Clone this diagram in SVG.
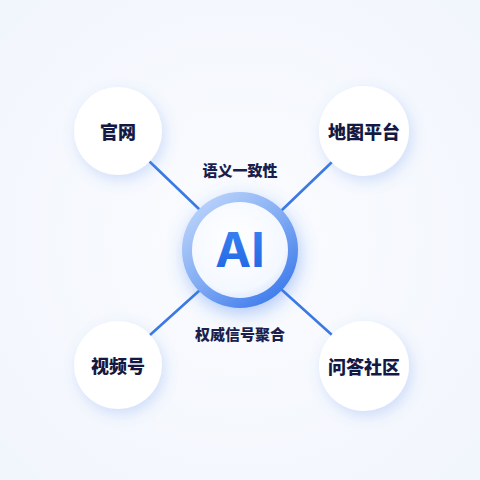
<svg xmlns="http://www.w3.org/2000/svg" width="480" height="480" viewBox="0 0 480 480">
<style>
.node-text{font-family:"Noto Sans CJK SC","Noto Sans",sans-serif;font-weight:900;font-size:18px;fill:#141944;text-anchor:middle;dominant-baseline:central}
.edge-label{font-family:"Noto Sans CJK SC","Noto Sans",sans-serif;font-weight:900;font-size:15px;fill:#1a1f4e;text-anchor:middle;dominant-baseline:central}
.edge{stroke:#3b79e3;stroke-width:2.6;stroke-linecap:round}
.bubble{fill:#ffffff;filter:url(#shadow)}
</style>
<defs>
<radialGradient id="bg" cx="50%" cy="50%" r="70%">
<stop offset="0" stop-color="#fbfcff"/>
<stop offset="1" stop-color="#f1f5fc"/>
</radialGradient>
<filter id="shadow" x="-40%" y="-40%" width="180%" height="180%">
<feGaussianBlur in="SourceAlpha" stdDeviation="7"/>
<feOffset dx="3" dy="5" result="b"/>
<feFlood flood-color="#5b8ff0" flood-opacity="0.25"/>
<feComposite in2="b" operator="in"/>
<feMerge><feMergeNode/><feMergeNode in="SourceGraphic"/></feMerge>
</filter>
<filter id="glow" x="-50%" y="-50%" width="200%" height="200%">
<feGaussianBlur in="SourceAlpha" stdDeviation="9"/>
<feOffset dx="2" dy="6" result="b"/>
<feFlood flood-color="#3f7ff0" flood-opacity="0.4"/>
<feComposite in2="b" operator="in"/>
<feMerge><feMergeNode/><feMergeNode in="SourceGraphic"/></feMerge>
</filter>
<linearGradient id="ring" x1="0.15" y1="0.1" x2="0.85" y2="0.95">
<stop offset="0" stop-color="#b8d1fa"/>
<stop offset="0.5" stop-color="#7faaf3"/>
<stop offset="1" stop-color="#3a78ec"/>
</linearGradient>
<radialGradient id="disc" cx="45%" cy="40%" r="65%">
<stop offset="0" stop-color="#ffffff"/>
<stop offset="0.8" stop-color="#f4f8ff"/>
<stop offset="1" stop-color="#dbe7fd"/>
</radialGradient>
<linearGradient id="aitext" x1="0" y1="0" x2="0" y2="1">
<stop offset="0" stop-color="#3d86f5"/>
<stop offset="1" stop-color="#1f63e0"/>
</linearGradient>
</defs>
<rect width="480" height="480" fill="url(#bg)"/>
<g id="connectors">
<line class="edge" x1="150" y1="162" x2="200" y2="210"/>
<line class="edge" x1="332" y1="162" x2="282" y2="210"/>
<line class="edge" x1="150" y1="335" x2="200" y2="290"/>
<line class="edge" x1="332" y1="335" x2="282" y2="290"/>
<text class="edge-label" x="240" y="169">语义一致性</text>
<text class="edge-label" x="240" y="333">权威信号聚合</text>
</g>
<g id="node-ai">
<circle cx="240" cy="250" r="58" fill="url(#ring)" filter="url(#glow)"/>
<circle cx="240" cy="250" r="48" fill="url(#disc)"/>
<text x="240" y="267" font-family="Inter,'Liberation Sans',sans-serif" font-weight="700" font-size="48" fill="url(#aitext)" text-anchor="middle">AI</text>
</g>
<g id="node-guanwang">
<circle class="bubble" cx="118" cy="131" r="44"/>
<text class="node-text" x="118" y="131">官网</text>
</g>
<g id="node-ditu">
<circle class="bubble" cx="364" cy="131" r="45"/>
<text class="node-text" x="364" y="131">地图平台</text>
</g>
<g id="node-shipin">
<circle class="bubble" cx="118" cy="365" r="44"/>
<text class="node-text" x="118" y="365">视频号</text>
</g>
<g id="node-wenda">
<circle class="bubble" cx="364" cy="366" r="45"/>
<text class="node-text" x="364" y="366">问答社区</text>
</g>
</svg>
